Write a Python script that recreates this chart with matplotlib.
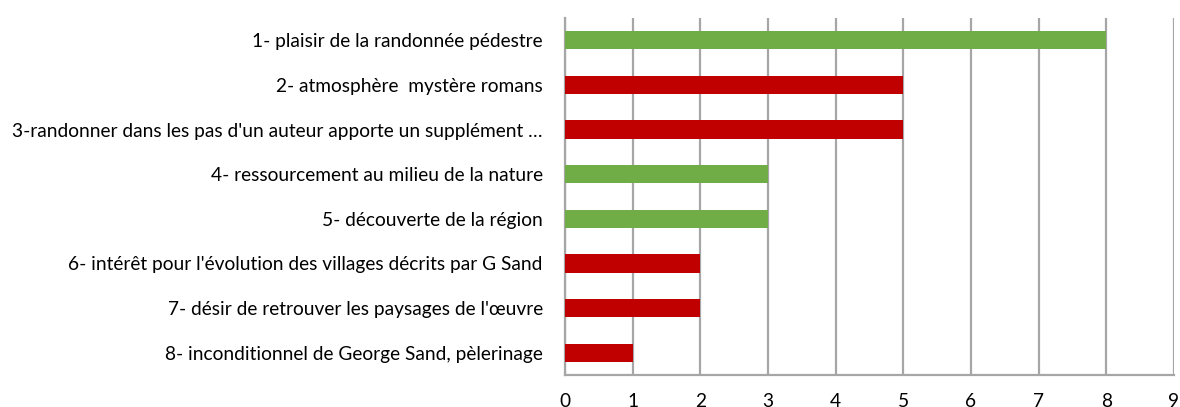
import matplotlib.pyplot as plt

labels = [
    "1- plaisir de la randonnée pédestre",
    "2- atmosphère  mystère romans",
    "3-randonner dans les pas d'un auteur apporte un supplément …",
    "4- ressourcement au milieu de la nature",
    "5- découverte de la région",
    "6- intérêt pour l'évolution des villages décrits par G Sand",
    "7- désir de retrouver les paysages de l'œuvre",
    "8- inconditionnel de George Sand, pèlerinage",
]
values = [8, 5, 5, 3, 3, 2, 2, 1]
colors = ["#70AD47", "#C00000", "#C00000", "#70AD47",
          "#70AD47", "#C00000", "#C00000", "#C00000"]

plt.rcParams['font.family'] = ['Lato', 'DejaVu Sans']

fig = plt.figure(figsize=(11.8, 4.07), dpi=100)
ax = fig.add_axes([0.4788, 0.0786, 0.5161, 0.8772])

y = list(range(len(labels)))
ax.barh(y, values, height=0.41, color=colors, zorder=3)

ax.set_xlim(0, 9)
ax.set_ylim(len(labels) - 0.5, -0.5)
ax.set_xticks(range(10))
ax.set_yticks(y)
ax.set_yticklabels(labels, fontsize=13.8, color="#000000")
ax.tick_params(axis='x', labelsize=13.8, length=0, pad=13)
ax.tick_params(axis='y', length=0, pad=16)

ax.grid(axis='x', color="#A6A6A6", linewidth=1.6, zorder=0)
for side in ['top', 'right']:
    ax.spines[side].set_visible(False)
for side in ['left', 'bottom']:
    ax.spines[side].set_color("#A6A6A6")
    ax.spines[side].set_linewidth(1.6)

fig.savefig("out.png", dpi=100)
